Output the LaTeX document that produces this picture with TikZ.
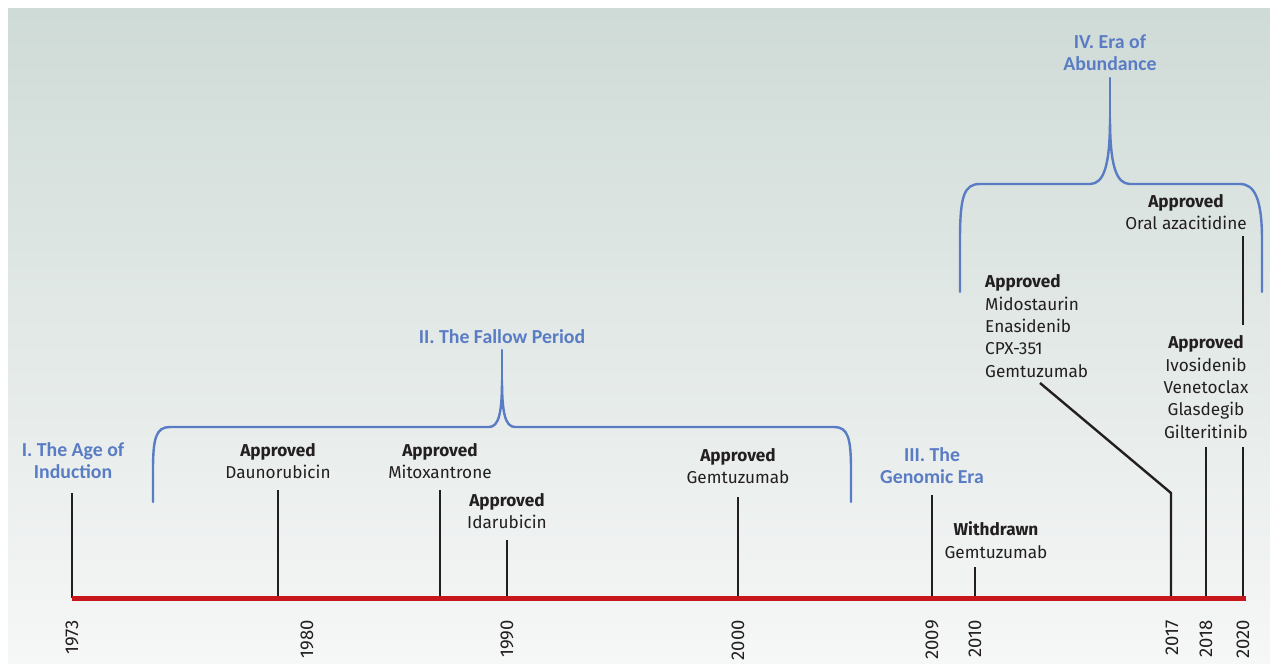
\documentclass[tikz,border=0pt]{standalone}
\usepackage{fontspec}
\setmainfont{Fira Sans}
\newfontfamily\titlefont{Carlito}
\usetikzlibrary{calc}
\definecolor{axisred}{HTML}{C8161D}
\definecolor{erablue}{HTML}{5A7CC4}
\definecolor{inkblack}{HTML}{231F20}
\definecolor{bgtop}{HTML}{CFDBD7}
\definecolor{bgbot}{HTML}{F6F7F7}
\tikzset{
  eratitle/.style={text=erablue, font=\titlefont\bfseries\fontsize{19.8}{22}\selectfont, align=center, inner sep=0pt},
  druglabel/.style={text=inkblack, font=\fontsize{17.2}{22.3}\selectfont, align=center, inner sep=0pt},
  yearlabel/.style={text=inkblack, font=\fontsize{18.5}{20}\selectfont, rotate=90, anchor=east, inner sep=0pt},
  tickline/.style={draw=inkblack, line width=2.4pt},
  bracketline/.style={draw=erablue, line width=2.4pt, line cap=round},
  axisline/.style={draw=axisred, line width=5pt}
}
\begin{document}
\begin{tikzpicture}[x=1pt,y=-1pt]
\useasboundingbox (0,0) rectangle (1270,664);
\shade[top color=bgtop, bottom color=bgbot] (8,8) rectangle (1270,664);

% axis coordinates
\coordinate (a1973) at (72,598);
\coordinate (a1980) at (278,598);
\coordinate (a1987) at (440,598);
\coordinate (a1990) at (507,598);
\coordinate (a2000) at (738,598);
\coordinate (a2009) at (932,598);
\coordinate (a2010) at (975,598);
\coordinate (a2017) at (1171,598);
\coordinate (a2018) at (1206,598);
\coordinate (a2020) at (1243,598);
\coordinate (aend) at (1246,598);

% tick tops
\coordinate (t1973) at (72,493);
\coordinate (t1980) at (278,490);
\coordinate (t1987) at (440,490);
\coordinate (t1990) at (507,540);
\coordinate (t2000) at (738,497);
\coordinate (t2009) at (932,495);
\coordinate (t2010) at (975,567);
\coordinate (t2017) at (1171,493);
\coordinate (k2017) at (1040,383);
\coordinate (t2018) at (1206,447);
\coordinate (t2020) at (1243,447);
\coordinate (o2020a) at (1243,236);
\coordinate (o2020b) at (1243,325);

% ticks
\foreach \y in {1973,1980,1987,1990,2000,2009,2010,2018,2020}
  \draw[tickline] (a\y) -- (t\y);
\draw[tickline, line join=miter] (a2017) -- (t2017) -- (k2017);
\draw[tickline] (o2020a) -- (o2020b);

% axis
\draw[axisline] (a1973) -- (aend);

% year labels
\node[yearlabel] (y1973) at (72,620) {1973};
\node[yearlabel] (y1980) at (307,620) {1980};
\node[yearlabel] (y1990) at (507,620) {1990};
\node[yearlabel] (y2000) at (738,620) {2000};
\node[yearlabel] (y2009) at (932,620) {2009};
\node[yearlabel] (y2010) at (975,620) {2010};
\node[yearlabel] (y2017) at (1172,620) {2017};
\node[yearlabel] (y2018) at (1206,620) {2018};
\node[yearlabel] (y2020) at (1243,620) {2020};

% brackets
\draw[bracketline] (153,502) -- (153,470) .. controls (153,438) and (156,427) .. (170,427)
  -- (489,427) .. controls (499,427) and (502,412) .. (502,380)
  .. controls (502,412) and (505,427) .. (515,427)
  -- (834,427) .. controls (848,427) and (851,438) .. (851,470) -- (851,502);
\draw[bracketline] (502,380) -- (502,350);

\draw[bracketline] (960,292) -- (960,240) .. controls (960,196) and (964,184) .. (980,184)
  -- (1090,184) .. controls (1104,184) and (1110,165) .. (1110,118)
  .. controls (1110,165) and (1116,184) .. (1130,184)
  -- (1240,184) .. controls (1255,184) and (1262,200) .. (1262,240) -- (1262,292);
\draw[bracketline] (1110,118) -- (1110,78);

% era titles
\node[eratitle] (era1) at (73,461) {I. The Age of\\Induction};
\node[eratitle] (era2) at (502,337) {II. The Fallow Period};
\node[eratitle] (era3) at (932,466) {III. The\\Genomic Era};
\node[eratitle] (era4) at (1110,53) {IV. Era of\\Abundance};

% drug labels
\node[druglabel] (dauno) at (278,461) {\textbf{Approved}\\Daunorubicin};
\node[druglabel] (mitox) at (440,461) {\textbf{Approved}\\Mitoxantrone};
\node[druglabel] (idaru) at (507,511) {\textbf{Approved}\\Idarubicin};
\node[druglabel] (gem2000) at (738,466) {\textbf{Approved}\\Gemtuzumab};
\node[druglabel] (gemwd) at (996,540) {\textbf{Withdrawn}\\Gemtuzumab};
\node[druglabel, align=left, anchor=west] (mido) at (985,326) {\textbf{Approved}\\Midostaurin\\Enasidenib\\CPX-351\\Gemtuzumab};
\node[druglabel] (oral) at (1186,212) {\textbf{Approved}\\Oral azacitidine};
\node[druglabel] (ivo) at (1206,387) {\textbf{Approved}\\Ivosidenib\\Venetoclax\\Glasdegib\\Gilteritinib};
\end{tikzpicture}
\end{document}
